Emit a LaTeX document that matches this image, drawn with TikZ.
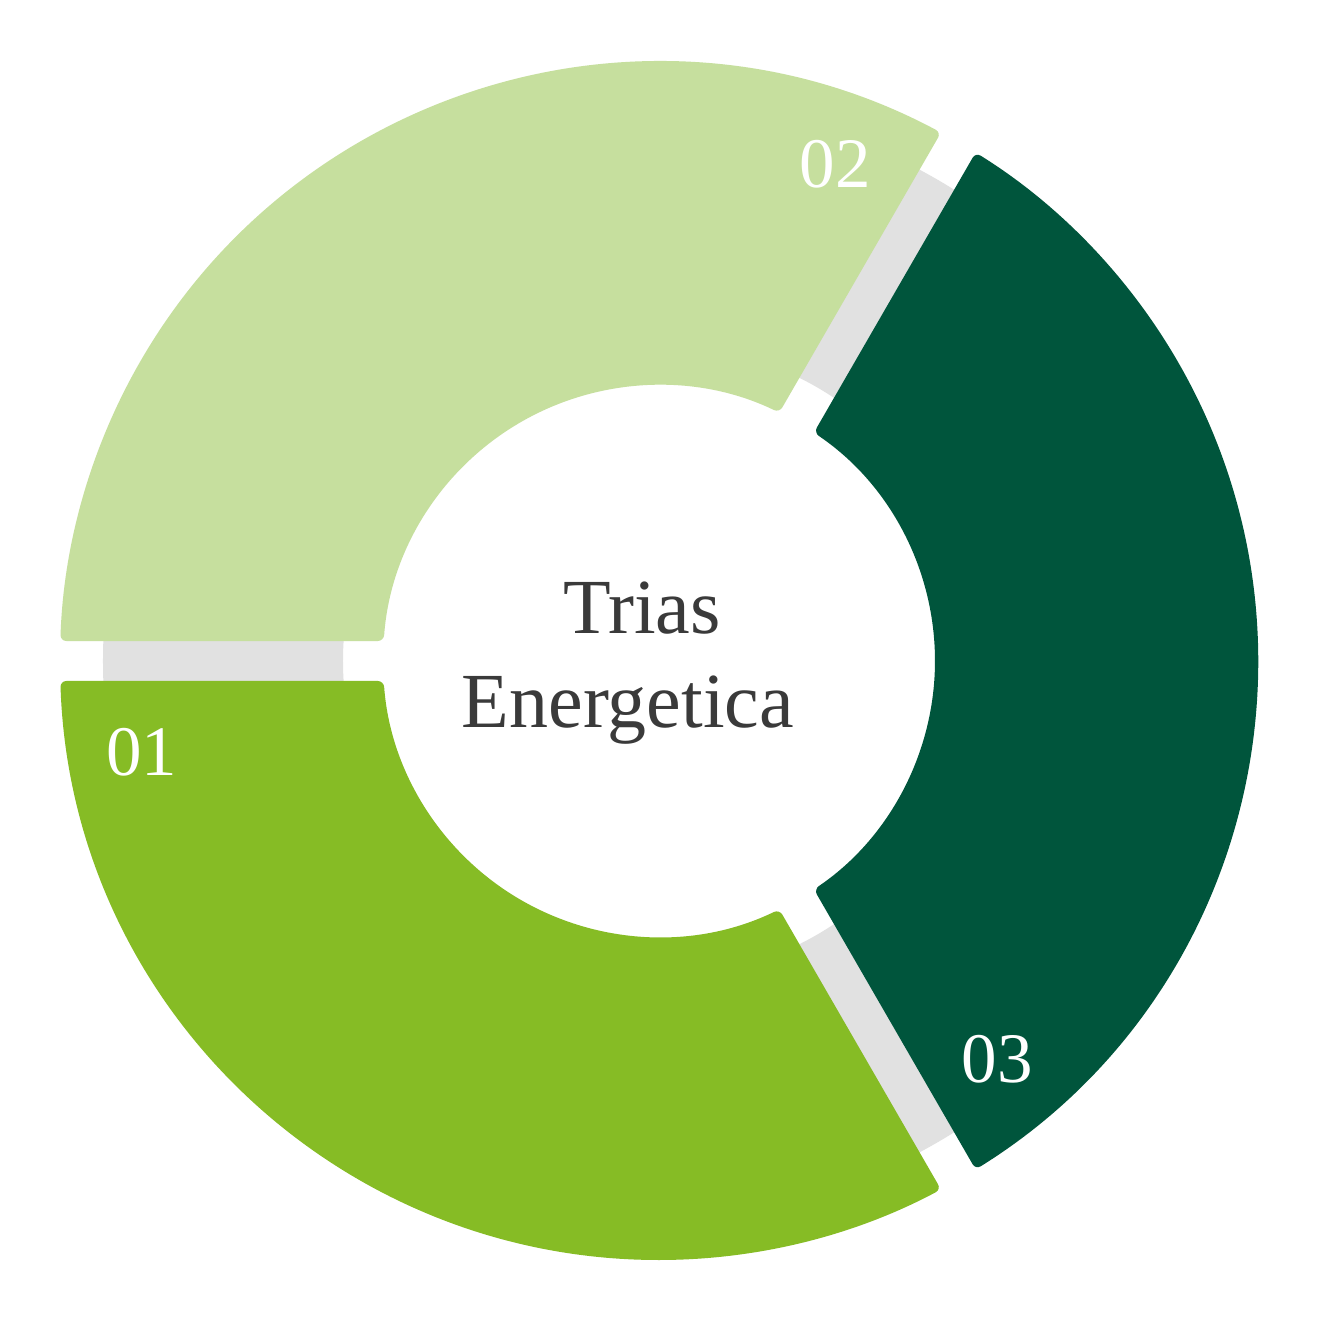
\documentclass[tikz,border=0pt]{standalone}
\usepackage{fontspec}
\setmainfont{Liberation Serif}
\definecolor{segone}{HTML}{86BC25}
\definecolor{segtwo}{HTML}{C6DF9E}
\definecolor{segthree}{HTML}{00553C}
\definecolor{ringgray}{HTML}{E1E1E1}
\definecolor{txtgray}{HTML}{3A3A3A}
\newcommand{\donutseg}[3]{% start angle, end angle, colour
  \pgfmathsetmacro{\dR}{asin(20/599)}%
  \pgfmathsetmacro{\dr}{asin(20/276)}%
  \fill[#3, rounded corners=6pt] ({#1+\dR}:599) arc[start angle={#1+\dR}, end angle={#2-\dR}, radius=599]
    -- ({#2-\dr}:276) arc[start angle={#2-\dr}, end angle={#1+\dr}, radius=276] -- cycle;}
\tikzset{
  seglabel/.style={text=white, font=\fontsize{71}{80}\selectfont, anchor=base, inner sep=0pt},
  centerlabel/.style={text=txtgray, font=\fontsize{78}{90}\selectfont, anchor=base, inner sep=0pt}
}
\begin{document}
\begin{tikzpicture}[x=1pt,y=1pt]
\useasboundingbox[fill=white] (-659,-657) rectangle (677,661);
\fill[ringgray, even odd rule] (0,0) circle[radius=556] (0,0) circle[radius=316];
\donutseg{180}{300}{segone}
\donutseg{60}{180}{segtwo}
\donutseg{-60}{60}{segthree}
\node[seglabel] (l1) at (-517,-114) {01};
\node[seglabel] (l2) at (176,473) {02};
\node[seglabel] (l3) at (338,-421) {03};
\node[centerlabel] (t1) at (-17,28) {Trias};
\node[centerlabel] (t2) at (-31,-66) {Energetica};
\end{tikzpicture}
\end{document}
